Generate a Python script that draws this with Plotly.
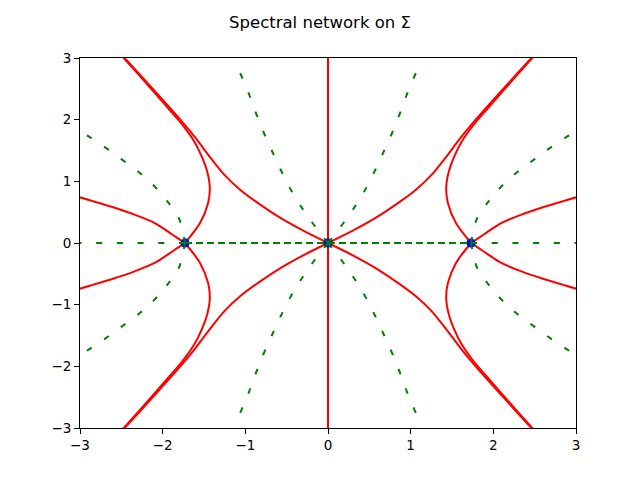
import plotly.graph_objects as go

### data ###
branch_x = [-1.73, 0.0, 1.73]
branch_y = [0.0, 0.0, 0.0]

# red (solid) walls
red_vert_x = [0.0, 0.0]
red_vert_y = [-3.2, 3.2]

# from the middle branch point out to the corners
red_a_ul_x = [0.0, -0.30, -0.58, -0.85, -1.06, -1.25, -1.42, -1.60, -1.80, -2.10, -2.46, -2.55]
red_a_ul_y = [0.0, 0.20, 0.41, 0.65, 0.86, 1.10, 1.38, 1.70, 2.02, 2.47, 3.00, 3.13]
red_a_ur_x = [0.0, 0.30, 0.58, 0.85, 1.06, 1.25, 1.42, 1.60, 1.80, 2.10, 2.46, 2.55]
red_a_ur_y = [0.0, 0.20, 0.41, 0.65, 0.86, 1.10, 1.38, 1.70, 2.02, 2.47, 3.00, 3.13]
red_a_ll_x = [0.0, -0.30, -0.58, -0.85, -1.06, -1.25, -1.42, -1.60, -1.80, -2.10, -2.46, -2.55]
red_a_ll_y = [0.0, -0.20, -0.41, -0.65, -0.86, -1.10, -1.38, -1.70, -2.02, -2.47, -3.00, -3.13]
red_a_lr_x = [0.0, 0.30, 0.58, 0.85, 1.06, 1.25, 1.42, 1.60, 1.80, 2.10, 2.46, 2.55]
red_a_lr_y = [0.0, -0.20, -0.41, -0.65, -0.86, -1.10, -1.38, -1.70, -2.02, -2.47, -3.00, -3.13]

# from the outer branch points, bending back to the corners
red_b_ul_x = [-1.73, -1.55, -1.45, -1.43, -1.46, -1.52, -1.62, -1.77, -1.93, -2.12, -2.47, -2.56]
red_b_ul_y = [0.0, 0.32, 0.65, 0.90, 1.15, 1.38, 1.65, 1.93, 2.18, 2.47, 3.00, 3.13]
red_b_ur_x = [1.73, 1.55, 1.45, 1.43, 1.46, 1.52, 1.62, 1.77, 1.93, 2.12, 2.47, 2.56]
red_b_ur_y = [0.0, 0.32, 0.65, 0.90, 1.15, 1.38, 1.65, 1.93, 2.18, 2.47, 3.00, 3.13]
red_b_ll_x = [-1.73, -1.55, -1.45, -1.43, -1.46, -1.52, -1.62, -1.77, -1.93, -2.12, -2.47, -2.56]
red_b_ll_y = [0.0, -0.32, -0.65, -0.90, -1.15, -1.38, -1.65, -1.93, -2.18, -2.47, -3.00, -3.13]
red_b_lr_x = [1.73, 1.55, 1.45, 1.43, 1.46, 1.52, 1.62, 1.77, 1.93, 2.12, 2.47, 2.56]
red_b_lr_y = [0.0, -0.32, -0.65, -0.90, -1.15, -1.38, -1.65, -1.93, -2.18, -2.47, -3.00, -3.13]

# from the outer branch points out to the side edges
red_c_ul_x = [-1.73, -1.82, -1.93, -2.09, -2.34, -2.60, -3.05]
red_c_ul_y = [0.0, 0.08, 0.18, 0.32, 0.46, 0.58, 0.76]
red_c_ur_x = [1.73, 1.82, 1.93, 2.09, 2.34, 2.60, 3.05]
red_c_ur_y = [0.0, 0.08, 0.18, 0.32, 0.46, 0.58, 0.76]
red_c_ll_x = [-1.73, -1.82, -1.93, -2.09, -2.34, -2.60, -3.05]
red_c_ll_y = [0.0, -0.08, -0.18, -0.32, -0.46, -0.58, -0.76]
red_c_lr_x = [1.73, 1.82, 1.93, 2.09, 2.34, 2.60, 3.05]
red_c_lr_y = [0.0, -0.08, -0.18, -0.32, -0.46, -0.58, -0.76]

# green (dashed) walls
green_inner_x = [-1.73, 0.0, 1.73]
green_inner_y = [0.0, 0.0, 0.0]
green_outer_l_x = [-1.73, -3.0]
green_outer_l_y = [0.0, 0.0]
green_outer_r_x = [1.73, 3.0]
green_outer_r_y = [0.0, 0.0]

green_o_ul_x = [0.0, -0.185, -0.33, -0.46, -0.57, -0.68, -0.78, -0.875, -0.96, -1.07]
green_o_ul_y = [0.0, 0.32, 0.60, 0.89, 1.18, 1.50, 1.80, 2.12, 2.43, 2.78]
green_o_ur_x = [0.0, 0.185, 0.33, 0.46, 0.57, 0.68, 0.78, 0.875, 0.96, 1.07]
green_o_ur_y = [0.0, 0.32, 0.60, 0.89, 1.18, 1.50, 1.80, 2.12, 2.43, 2.78]
green_o_ll_x = [0.0, -0.185, -0.33, -0.46, -0.57, -0.68, -0.78, -0.875, -0.96, -1.07]
green_o_ll_y = [0.0, -0.32, -0.60, -0.89, -1.18, -1.50, -1.80, -2.12, -2.43, -2.78]
green_o_lr_x = [0.0, 0.185, 0.33, 0.46, 0.57, 0.68, 0.78, 0.875, 0.96, 1.07]
green_o_lr_y = [0.0, -0.32, -0.60, -0.89, -1.18, -1.50, -1.80, -2.12, -2.43, -2.78]

green_b_ul_x = [-1.73, -1.80, -1.94, -2.10, -2.29, -2.50, -2.70, -2.91, -3.05]
green_b_ul_y = [0.0, 0.39, 0.67, 0.92, 1.15, 1.36, 1.555, 1.74, 1.86]
green_b_ur_x = [1.73, 1.80, 1.94, 2.10, 2.29, 2.50, 2.70, 2.91, 3.05]
green_b_ur_y = [0.0, 0.39, 0.67, 0.92, 1.15, 1.36, 1.555, 1.74, 1.86]
green_b_ll_x = [-1.73, -1.80, -1.94, -2.10, -2.29, -2.50, -2.70, -2.91, -3.05]
green_b_ll_y = [0.0, -0.39, -0.67, -0.92, -1.15, -1.36, -1.555, -1.74, -1.86]
green_b_lr_x = [1.73, 1.80, 1.94, 2.10, 2.29, 2.50, 2.70, 2.91, 3.05]
green_b_lr_y = [0.0, -0.39, -0.67, -0.92, -1.15, -1.36, -1.555, -1.74, -1.86]

tick_vals = [-3, -2, -1, 0, 1, 2, 3]

red_curves = [
    (red_vert_x, red_vert_y),
    (red_a_ul_x, red_a_ul_y), (red_a_ur_x, red_a_ur_y),
    (red_a_ll_x, red_a_ll_y), (red_a_lr_x, red_a_lr_y),
    (red_b_ul_x, red_b_ul_y), (red_b_ur_x, red_b_ur_y),
    (red_b_ll_x, red_b_ll_y), (red_b_lr_x, red_b_lr_y),
    (red_c_ul_x, red_c_ul_y), (red_c_ur_x, red_c_ur_y),
    (red_c_ll_x, red_c_ll_y), (red_c_lr_x, red_c_lr_y),
]
green_curves = [
    (green_outer_l_x, green_outer_l_y), (green_outer_r_x, green_outer_r_y),
    (green_o_ul_x, green_o_ul_y), (green_o_ur_x, green_o_ur_y),
    (green_o_ll_x, green_o_ll_y), (green_o_lr_x, green_o_lr_y),
    (green_b_ul_x, green_b_ul_y), (green_b_ur_x, green_b_ur_y),
    (green_b_ll_x, green_b_ll_y), (green_b_lr_x, green_b_lr_y),
]

fig = go.Figure()

for xs, ys in red_curves:
    fig.add_trace(go.Scatter(x=xs, y=ys, mode="lines",
                             line=dict(color="red", width=2, shape="spline", smoothing=0.8)))

# branch points sit under the dashed lines
fig.add_trace(go.Scatter(x=branch_x, y=branch_y, mode="markers",
                         marker=dict(color="blue", size=9, line=dict(width=0))))

for xs, ys in green_curves:
    fig.add_trace(go.Scatter(x=xs, y=ys, mode="lines",
                             line=dict(color="green", width=2, dash="6px,14.7px",
                                       shape="spline", smoothing=0.8)))

# the segment between branch points is doubled up, so its dashes look denser
fig.add_trace(go.Scatter(x=green_inner_x, y=green_inner_y, mode="lines",
                         line=dict(color="green", width=2, dash="7px,4px")))

axis_style = dict(
    range=[-3, 3], tickvals=tick_vals, showgrid=False, zeroline=False,
    showline=True, linecolor="black", linewidth=1, mirror=True,
    ticks="outside", ticklen=5, tickcolor="black",
    tickfont=dict(family="DejaVu Sans", size=13.5, color="black"),
)

# the page body adds 8px on the top and left, so margins are shifted to suit
fig.update_layout(
    width=640, height=480,
    margin=dict(l=72, r=72, t=50, b=60),
    plot_bgcolor="white", paper_bgcolor="white",
    showlegend=False,
    title=dict(text="Spectral network on Σ", x=0.4875, xanchor="center",
               y=0.971, yanchor="middle",
               font=dict(family="DejaVu Sans", size=16.5, color="black")),
    xaxis=axis_style, yaxis=axis_style,
)

fig.write_html("out.html")
